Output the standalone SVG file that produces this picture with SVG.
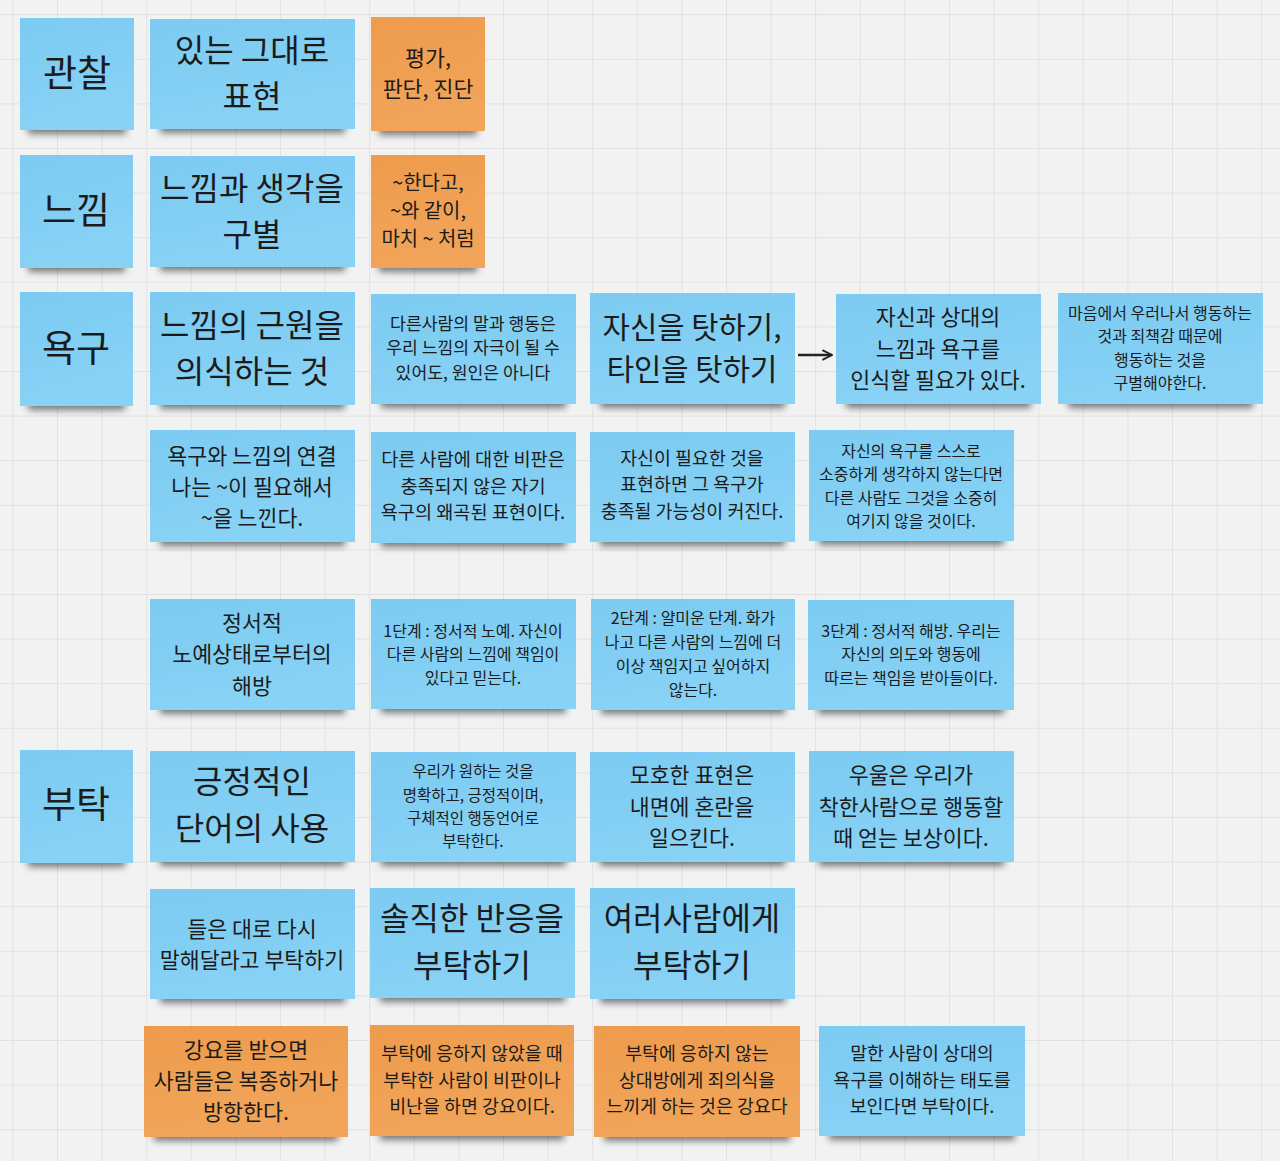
<svg xmlns="http://www.w3.org/2000/svg" width="1280" height="1161" viewBox="0 0 1280 1161">
<defs>
<pattern id="grid" x="12.4" y="14.2" width="44.6" height="44.6" patternUnits="userSpaceOnUse">
<path d="M0 0.5H44.6M0.5 0V44.6" stroke="#e1e1e1" stroke-width="1" fill="none"/>
</pattern>
<linearGradient id="gb" x1="0" y1="0" x2="0.3" y2="1">
<stop offset="0" stop-color="#7ccbf2"/>
<stop offset="1" stop-color="#88d2f5"/>
</linearGradient>
<linearGradient id="go" x1="0" y1="0" x2="0.3" y2="1">
<stop offset="0" stop-color="#ee9b4c"/>
<stop offset="1" stop-color="#f1a55a"/>
</linearGradient>
<filter id="blur" x="-20%" y="-100%" width="140%" height="300%">
<feGaussianBlur stdDeviation="3.5"/>
</filter>
<marker id="ah" viewBox="0 0 10 10" refX="9" refY="5" markerWidth="5" markerHeight="5" orient="auto">
<path d="M1 1L9 5L1 9" fill="none" stroke="#222" stroke-width="1.6"/>
</marker>
</defs>
<style>
.sh{fill:#000;opacity:.5;filter:url(#blur)}
.b{fill:url(#gb)}
.o{fill:url(#go)}
text{font-family:"Noto Sans CJK KR","Noto Sans",sans-serif;fill:#1b1b1b;text-anchor:middle;dominant-baseline:central}
.t37{font-size:37px}
.t32{font-size:32px}
.t30{font-size:29.7px}
.t22{font-size:21.7px}
.t20{font-size:19.9px}
.t19{font-size:18.6px}
.t18{font-size:18.4px}
.t17{font-size:17.2px}
.t16{font-size:16px}
.t155{font-size:15.5px}
</style>
<rect width="1280" height="1161" fill="#f2f2f2"/>
<rect width="1280" height="1161" fill="url(#grid)"/>

<g id="n-observe"><rect class="sh" x="28" y="118" width="98" height="16"/><rect class="b" x="20" y="18" width="114" height="112"/><text class="t37" x="77" y="71">관찰</text></g>
<g id="n-as-is"><rect class="sh" x="160" y="117" width="185" height="16"/><rect class="b" x="150" y="19" width="205" height="110"/><text class="t32" x="252" y="48">있는 그대로</text><text class="t32" x="252" y="94">표현</text></g>
<g id="n-eval"><rect class="sh" x="379" y="119" width="98" height="16"/><rect class="o" x="371" y="17" width="114" height="114"/><text class="t22" x="428" y="56">평가,</text><text class="t22" x="428" y="87">판단, 진단</text></g>

<g id="n-feeling"><rect class="sh" x="28" y="256" width="97" height="16"/><rect class="b" x="20" y="155" width="113" height="113"/><text class="t37" x="76" y="208">느낌</text></g>
<g id="n-distinguish"><rect class="sh" x="160" y="255" width="185" height="16"/><rect class="b" x="150" y="156" width="205" height="111"/><text class="t32" x="252" y="186">느낌과 생각을</text><text class="t32" x="252" y="232">구별</text></g>
<g id="n-like"><rect class="sh" x="379" y="256" width="98" height="16"/><rect class="o" x="371" y="155" width="114" height="113"/><text class="t20" x="428" y="181">~한다고,</text><text class="t20" x="428" y="209">~와 같이,</text><text class="t20" x="428" y="237">마치 ~ 처럼</text></g>

<g id="n-need"><rect class="sh" x="28" y="394" width="97" height="16"/><rect class="b" x="20" y="292" width="113" height="114"/><text class="t37" x="76" y="346">욕구</text></g>
<g id="n-source"><rect class="sh" x="160" y="393" width="185" height="16"/><rect class="b" x="150" y="292" width="205" height="113"/><text class="t32" x="252" y="323">느낌의 근원을</text><text class="t32" x="252" y="369">의식하는 것</text></g>
<g id="n-stimulus"><rect class="sh" x="381" y="392" width="185" height="16"/><rect class="b" x="371" y="294" width="205" height="110"/><text class="t17" x="473" y="322">다른사람의 말과 행동은</text><text class="t17" x="473" y="346">우리 느낌의 자극이 될 수</text><text class="t17" x="473" y="371">있어도, 원인은 아니다</text></g>
<g id="n-blame"><rect class="sh" x="600" y="392" width="185" height="16"/><rect class="b" x="590" y="293" width="205" height="111"/><text class="t30" x="692" y="325">자신을 탓하기,</text><text class="t30" x="692" y="367">타인을 탓하기</text></g>
<g id="n-aware"><rect class="sh" x="846" y="392" width="185" height="16"/><rect class="b" x="836" y="294" width="205" height="110"/><text class="t22" x="938" y="315">자신과 상대의</text><text class="t22" x="938" y="347">느낌과 욕구를</text><text class="t22" x="938" y="378">인식할 필요가 있다.</text></g>
<g id="n-heart"><rect class="sh" x="1068" y="392" width="185" height="16"/><rect class="b" x="1058" y="293" width="205" height="111"/><text class="t16" x="1160" y="312">마음에서 우러나서 행동하는</text><text class="t16" x="1160" y="335">것과 죄책감 때문에</text><text class="t16" x="1160" y="359">행동하는 것을</text><text class="t16" x="1160" y="382">구별해야한다.</text></g>

<g id="n-link"><rect class="sh" x="160" y="530" width="185" height="16"/><rect class="b" x="150" y="430" width="205" height="112"/><text class="t22" x="252" y="454">욕구와 느낌의 연결</text><text class="t22" x="252" y="485">나는 ~이 필요해서</text><text class="t22" x="252" y="516">~을 느낀다.</text></g>
<g id="n-criticism"><rect class="sh" x="381" y="531" width="185" height="16"/><rect class="b" x="371" y="432" width="205" height="111"/><text class="t19" x="473" y="457">다른 사람에 대한 비판은</text><text class="t19" x="473" y="484">충족되지 않은 자기</text><text class="t19" x="473" y="510">욕구의 왜곡된 표현이다.</text></g>
<g id="n-express"><rect class="sh" x="600" y="530" width="185" height="16"/><rect class="b" x="590" y="432" width="205" height="110"/><text class="t18" x="692" y="457">자신이 필요한 것을</text><text class="t18" x="692" y="483">표현하면 그 욕구가</text><text class="t18" x="692" y="510">충족될 가능성이 커진다.</text></g>
<g id="n-precious"><rect class="sh" x="819" y="529" width="185" height="16"/><rect class="b" x="809" y="430" width="205" height="111"/><text class="t16" x="911" y="450">자신의 욕구를 스스로</text><text class="t16" x="911" y="473">소중하게 생각하지 않는다면</text><text class="t16" x="911" y="497">다른 사람도 그것을 소중히</text><text class="t16" x="911" y="520">여기지 않을 것이다.</text></g>

<g id="n-liberation"><rect class="sh" x="160" y="698" width="185" height="16"/><rect class="b" x="150" y="599" width="205" height="111"/><text class="t22" x="252" y="621">정서적</text><text class="t22" x="252" y="652">노예상태로부터의</text><text class="t22" x="252" y="684">해방</text></g>
<g id="n-stage1"><rect class="sh" x="381" y="697" width="185" height="16"/><rect class="b" x="371" y="599" width="205" height="110"/><text class="t16" x="473" y="630">1단계 : 정서적 노예. 자신이</text><text class="t16" x="473" y="653">다른 사람의 느낌에 책임이</text><text class="t16" x="473" y="677">있다고 믿는다.</text></g>
<g id="n-stage2"><rect class="sh" x="601" y="698" width="184" height="16"/><rect class="b" x="591" y="599" width="204" height="111"/><text class="t16" x="693" y="617">2단계 : 얄미운 단계. 화가</text><text class="t16" x="693" y="641">나고 다른 사람의 느낌에 더</text><text class="t16" x="693" y="665">이상 책임지고 싶어하지</text><text class="t16" x="693" y="689">않는다.</text></g>
<g id="n-stage3"><rect class="sh" x="818" y="698" width="186" height="16"/><rect class="b" x="808" y="600" width="206" height="110"/><text class="t16" x="911" y="630">3단계 : 정서적 해방. 우리는</text><text class="t16" x="911" y="653">자신의 의도와 행동에</text><text class="t16" x="911" y="677">따르는 책임을 받아들이다.</text></g>

<g id="n-request"><rect class="sh" x="28" y="851" width="97" height="16"/><rect class="b" x="20" y="750" width="113" height="113"/><text class="t37" x="76" y="802">부탁</text></g>
<g id="n-positive"><rect class="sh" x="160" y="850" width="185" height="16"/><rect class="b" x="150" y="751" width="205" height="111"/><text class="t32" x="252" y="779">긍정적인</text><text class="t32" x="252" y="826">단어의 사용</text></g>
<g id="n-clear"><rect class="sh" x="381" y="850" width="185" height="16"/><rect class="b" x="371" y="752" width="205" height="110"/><text class="t155" x="473" y="770">우리가 원하는 것을</text><text class="t155" x="473" y="794">명확하고, 긍정적이며,</text><text class="t155" x="473" y="817">구체적인 행동언어로</text><text class="t155" x="473" y="840">부탁한다.</text></g>
<g id="n-vague"><rect class="sh" x="600" y="850" width="185" height="16"/><rect class="b" x="590" y="752" width="205" height="110"/><text class="t22" x="692" y="773">모호한 표현은</text><text class="t22" x="692" y="805">내면에 혼란을</text><text class="t22" x="692" y="836">일으킨다.</text></g>
<g id="n-depress"><rect class="sh" x="819" y="850" width="185" height="16"/><rect class="b" x="809" y="751" width="205" height="111"/><text class="t22" x="911" y="773">우울은 우리가</text><text class="t22" x="911" y="805">착한사람으로 행동할</text><text class="t22" x="911" y="836">때 얻는 보상이다.</text></g>

<g id="n-repeat"><rect class="sh" x="160" y="987" width="185" height="16"/><rect class="b" x="150" y="889" width="205" height="110"/><text class="t22" x="252" y="927">들은 대로 다시</text><text class="t22" x="252" y="958">말해달라고 부탁하기</text></g>
<g id="n-honest"><rect class="sh" x="380" y="986" width="185" height="16"/><rect class="b" x="370" y="888" width="205" height="110"/><text class="t32" x="472" y="916">솔직한 반응을</text><text class="t32" x="472" y="963">부탁하기</text></g>
<g id="n-many"><rect class="sh" x="600" y="987" width="185" height="16"/><rect class="b" x="590" y="888" width="205" height="111"/><text class="t32" x="692" y="916">여러사람에게</text><text class="t32" x="692" y="963">부탁하기</text></g>

<g id="n-coerce"><rect class="sh" x="154" y="1125" width="184" height="16"/><rect class="o" x="144" y="1026" width="204" height="111"/><text class="t22" x="246" y="1048">강요를 받으면</text><text class="t22" x="246" y="1079">사람들은 복종하거나</text><text class="t22" x="246" y="1110">방항한다.</text></g>
<g id="n-reject"><rect class="sh" x="380" y="1124" width="184" height="16"/><rect class="o" x="370" y="1025" width="204" height="111"/><text class="t18" x="472" y="1052">부탁에 응하지 않았을 때</text><text class="t18" x="472" y="1079">부탁한 사람이 비판이나</text><text class="t18" x="472" y="1105">비난을 하면 강요이다.</text></g>
<g id="n-guilt"><rect class="sh" x="604" y="1125" width="186" height="16"/><rect class="o" x="594" y="1026" width="206" height="111"/><text class="t18" x="697" y="1052">부탁에 응하지 않는</text><text class="t18" x="697" y="1079">상대방에게 죄의식을</text><text class="t18" x="697" y="1105">느끼게 하는 것은 강요다</text></g>
<g id="n-understand"><rect class="sh" x="829" y="1124" width="186" height="16"/><rect class="b" x="819" y="1026" width="206" height="110"/><text class="t18" x="922" y="1052">말한 사람이 상대의</text><text class="t18" x="922" y="1079">욕구를 이해하는 태도를</text><text class="t18" x="922" y="1105">보인다면 부탁이다.</text></g>

<g id="connectors">
<line x1="798" y1="355" x2="832" y2="355" stroke="#222" stroke-width="2.4" marker-end="url(#ah)"/>
</g>
</svg>
